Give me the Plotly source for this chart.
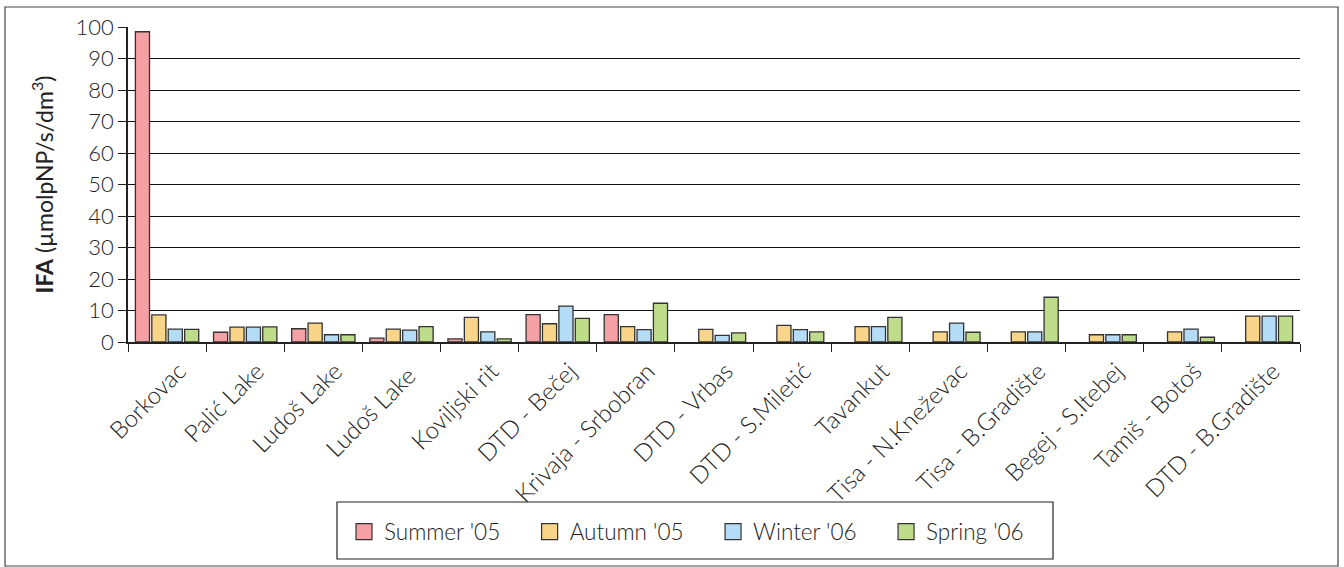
import plotly.graph_objects as go

sites = ["Borkovac", "Palić Lake", "Ludoš Lake", "Ludoš Lake ", "Koviljski rit", "DTD - Bečej",
         "Krivaja - Srbobran", "DTD - Vrbas", "DTD - S.Miletić", "Tavankut", "Tisa - N.Kneževac",
         "Tisa - B.Gradište", "Begej - S.Itebej", "Tamiš - Botoš", "DTD - B.Gradište"]
summer05 = [98.5, 3.1, 4.2, 1.2, 1.0, 8.7, 8.7, None, None, None, None, None, None, None, None]
autumn05 = [8.6, 4.7, 6.0, 4.1, 7.8, 5.8, 4.9, 4.0, 5.3, 4.9, 3.2, 3.2, 2.3, 3.2, 8.2]
winter06 = [4.1, 4.7, 2.3, 3.8, 3.2, 11.4, 3.9, 2.1, 3.9, 4.9, 6.0, 3.2, 2.3, 4.1, 8.2]
spring06 = [4.0, 4.8, 2.3, 4.9, 1.0, 7.5, 12.3, 2.9, 3.2, 7.8, 3.1, 14.2, 2.3, 1.5, 8.2]

series = [("Summer '05", summer05, "#F4A0A4"),
          ("Autumn '05", autumn05, "#F9D58A"),
          ("Winter '06", winter06, "#B5DCF7"),
          ("Spring '06", spring06, "#BEDC8A")]

FONT = "Lato, Open Sans, sans-serif"
PAD = "\u00a0" * 4
fig = go.Figure()
for name, vals, col in series:
    fig.add_trace(go.Bar(x=sites, y=vals, name=name, showlegend=False, legendgroup=name,
                         marker=dict(color=col, line=dict(color="#333333", width=1.3))))
for i, (name, vals, col) in enumerate(series):
    fig.add_trace(go.Scatter(x=[None], y=[None], mode="markers",
                             name=name + (PAD if i < len(series) - 1 else ""), legendgroup=name,
                             marker=dict(symbol="square", size=20, color=col,
                                         line=dict(color="#333333", width=1.2))))

W, H = 1344, 567
L, R, T, B = 128, 44, 27, 225
pw, ph = W - L - R, H - T - B

def px2x(px):
    return (px - L) / pw

def px2y(py):
    return (H - B - py) / ph

fig.update_layout(
    width=W, height=H,
    margin=dict(l=L, r=R, t=T, b=B, autoexpand=False),
    paper_bgcolor="white", plot_bgcolor="white",
    barmode="group", bargap=0.16, bargroupgap=0.14,
    font=dict(family=FONT, color="#222222"),
    showlegend=True,
    legend=dict(orientation="h", xanchor="left", x=px2x(344), yanchor="middle", y=px2y(532),
                borderwidth=0, bgcolor="rgba(0,0,0,0)",
                font=dict(size=22.5, family=FONT, weight=300)),
    xaxis=dict(showline=True, linecolor="#222222", linewidth=1.5,
               ticks="outside", ticklen=8, tickcolor="#222222", tickson="boundaries",
               tickangle=-45, tickfont=dict(size=24, family=FONT, weight=300), showgrid=False,
               ticklabelshift=12, ticklabelstandoff=4),
    yaxis=dict(range=[0, 100], dtick=10, showline=True, linecolor="#222222", linewidth=1.5,
               ticks="outside", ticklen=8, tickcolor="#222222",
               showgrid=True, gridcolor="#111111", gridwidth=1,
               tickfont=dict(size=22, family=FONT, weight=300),
               title=dict(text="<b>IFA</b> (µmolpNP/s/dm<sup>3</sup>)", font=dict(size=23, family=FONT),
                          standoff=16)),
)
fig.add_shape(type="rect", xref="paper", yref="paper",
              x0=px2x(5), x1=px2x(1338), y0=px2y(566), y1=px2y(7),
              line=dict(color="#444444", width=1.2), fillcolor="rgba(0,0,0,0)", layer="below")
fig.add_shape(type="rect", xref="paper", yref="paper",
              x0=px2x(337), x1=px2x(1053), y0=px2y(559), y1=px2y(502),
              line=dict(color="#222222", width=1.2), fillcolor="rgba(0,0,0,0)", layer="below")
fig.write_html("out.html", config={"displayModeBar": False},
               post_script="document.body.style.margin='0';")
